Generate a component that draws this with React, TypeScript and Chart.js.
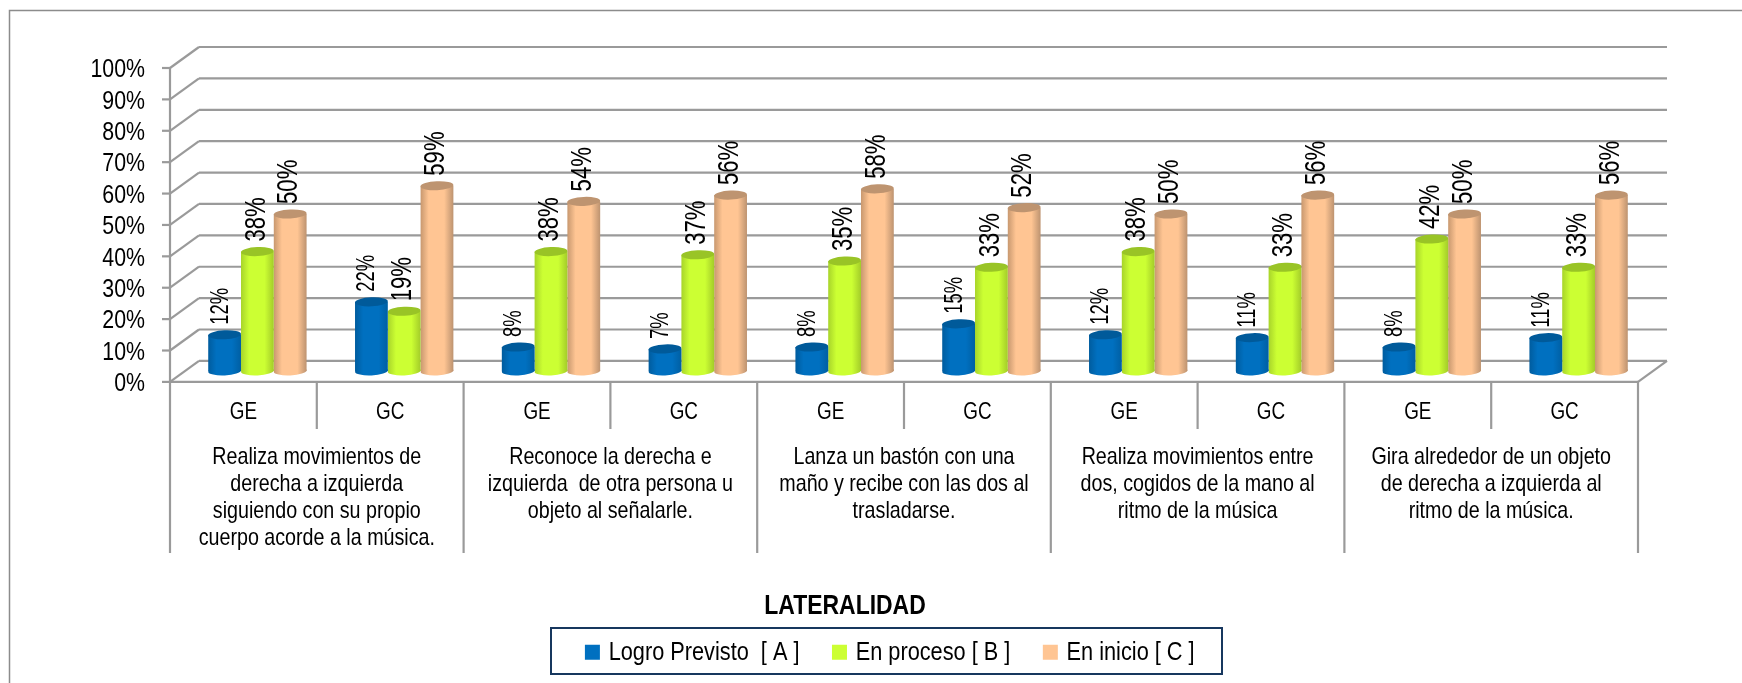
import React, { useEffect, useRef } from "react";
import { Chart, registerables } from "chart.js";

Chart.register(...registerables);

const FONT = '"Liberation Sans", Arial, sans-serif';
const NARROW = 0.82; // the reference's type is a narrow cut of this face

const groupCodes = ["GE", "GC", "GE", "GC", "GE", "GC", "GE", "GC", "GE", "GC"];
const indicatorLabels = [
  ["Realiza movimientos de", "derecha a izquierda", "siguiendo con su propio", "cuerpo acorde a la música."],
  ["Reconoce la derecha e", "izquierda  de otra persona u", "objeto al señalarle."],
  ["Lanza un bastón con una", "maño y recibe con las dos al", "trasladarse."],
  ["Realiza movimientos entre", "dos, cogidos de la mano al", "ritmo de la música"],
  ["Gira alrededor de un objeto", "de derecha a izquierda al", "ritmo de la música."],
];
const logroPrevisto = [11.5, 22, 7.6, 7, 7.6, 15, 11.5, 10.6, 7.6, 10.6];
const enProceso = [38, 19, 38, 37, 35, 33, 38, 33, 42, 33];
const enInicio = [50, 59, 54, 56, 58, 52, 50, 56, 50, 56];

const shades = [
  { edge: "#005C9E", body: "#0070C0", right: "#005FA3", cap: "#005A9A" },
  { edge: "#A8D42A", body: "#CCFF33", right: "#A3CC29", cap: "#99C426" },
  { edge: "#C8986F", body: "#FFC593", right: "#BD9370", cap: "#BE9470" },
];
const labelSizes = [25, 30, 30];
const labelShifts = [-4, -1, -1];

const DEPTH_X = 29;
const DEPTH_Y = 21;
const BAR_DX = 14;
const BAR_DY = -11;
const RY = 4.5;
const TILT = -0.045;
const GRID = "#9A9A9A";

const line = (c: CanvasRenderingContext2D, x1: number, y1: number, x2: number, y2: number) => {
  c.beginPath();
  c.moveTo(x1, y1);
  c.lineTo(x2, y2);
  c.stroke();
};

// Condense every text the chart draws along its own baseline direction.
const condense = (c: any) => {
  const fill = c.fillText.bind(c);
  const measure = c.measureText.bind(c);
  c.fillText = (t: string, x: number, y: number) => {
    c.save();
    c.translate(x, y);
    c.scale(NARROW, 1);
    fill(t, 0, 0);
    c.restore();
  };
  c.measureText = (t: string) => {
    const m = measure(t);
    return { width: m.width * NARROW, actualBoundingBoxAscent: m.actualBoundingBoxAscent, actualBoundingBoxDescent: m.actualBoundingBoxDescent };
  };
};

const scene = {
  id: "scene",
  afterLayout(chart: any) {
    const legend = chart.legend;
    const title = chart.titleBlock;
    const dxLegend = 892 - (legend.left + legend.right) / 2;
    legend.left += dxLegend;
    legend.right += dxLegend;
    const dyLegend = 602 - legend.top;
    legend.top += dyLegend;
    legend.bottom += dyLegend;
    const dxTitle = 845 - (title.left + title.right) / 2;
    title.left += dxTitle;
    title.right += dxTitle;
    const dyTitle = 589 - title.top;
    title.top += dyTitle;
    title.bottom += dyTitle;
  },
  beforeDatasetsDraw(chart: any) {
    const { ctx: c, scales, chartArea: a } = chart;
    const y = scales.y;
    c.save();
    c.strokeStyle = "#8C8C8C";
    c.lineWidth = 1.5;
    c.beginPath();
    c.moveTo(9.5, 683);
    c.lineTo(9.5, 10.5);
    c.lineTo(1742, 10.5);
    c.stroke();

    c.strokeStyle = GRID;
    c.lineWidth = 2.2;
    y.ticks.forEach((t: any) => {
      const py = y.getPixelForValue(t.value);
      line(c, a.left + DEPTH_X, py - DEPTH_Y, a.right + DEPTH_X, py - DEPTH_Y);
      line(c, a.left, py, a.left + DEPTH_X, py - DEPTH_Y);
      line(c, a.left - 8, py, a.left, py);
    });
    line(c, a.left, a.bottom, a.right, a.bottom);
    line(c, a.right, a.bottom, a.right + DEPTH_X, a.bottom - DEPTH_Y);
    line(c, a.left, a.top, a.left, 553);
    line(c, a.right, a.bottom, a.right, 553);
    const step = (a.right - a.left) / groupCodes.length;
    groupCodes.forEach((_, i) => {
      if (i === 0) return;
      const px = scales.x.getPixelForValue(i) - step / 2;
      line(c, px, a.bottom, px, i % 2 === 0 ? 553 : 429);
    });
    c.restore();
  },
  beforeDatasetDraw(chart: any, args: any) {
    const { ctx: c } = chart;
    const s = shades[args.index];
    c.save();
    c.translate(BAR_DX, BAR_DY);
    args.meta.data.forEach((el: any) => {
      const left = el.x - el.width / 2;
      const g = c.createLinearGradient(left, 0, left + el.width, 0);
      g.addColorStop(0, s.edge);
      g.addColorStop(0.25, s.body);
      g.addColorStop(0.72, s.body);
      g.addColorStop(1, s.right);
      el.options = { ...el.options, backgroundColor: g };
      c.fillStyle = g;
      c.beginPath();
      c.ellipse(el.x, el.base, el.width / 2, RY, TILT, 0, Math.PI * 2);
      c.fill();
    });
  },
  afterDatasetDraw(chart: any, args: any) {
    const { ctx: c } = chart;
    const s = shades[args.index];
    args.meta.data.forEach((el: any) => {
      c.fillStyle = s.cap;
      c.beginPath();
      c.ellipse(el.x, el.y, el.width / 2, RY, TILT, 0, Math.PI * 2);
      c.fill();
    });
    c.restore();
  },
  afterDatasetsDraw(chart: any) {
    const { ctx: c, data } = chart;
    c.save();
    c.fillStyle = "#000";
    c.textAlign = "left";
    c.textBaseline = "middle";
    data.datasets.forEach((ds: any, d: number) => {
      c.font = `${labelSizes[d]}px ${FONT}`;
      chart.getDatasetMeta(d).data.forEach((el: any, i: number) => {
        c.save();
        c.translate(el.x + BAR_DX + labelShifts[d], el.y + BAR_DY - 10);
        c.rotate(-Math.PI / 2);
        c.scale(0.9, 1); // these rotated labels are tighter still
        c.fillText(`${Math.round(ds.data[i])}%`, 0, 0);
        c.restore();
      });
    });
    c.restore();
  },
  afterDraw(chart: any) {
    const { ctx: c } = chart;
    c.save();
    c.strokeStyle = "#17375E";
    c.lineWidth = 2;
    c.strokeRect(551, 628, 671, 46);
    c.restore();
  },
};

export default function App() {
  const ref = useRef<HTMLCanvasElement>(null);
  useEffect(() => {
    const canvas = ref.current as HTMLCanvasElement;
    condense(canvas.getContext("2d"));
    const chart = new Chart(canvas, {
      type: "bar",
      data: {
        labels: groupCodes,
        datasets: [
          { label: "Logro Previsto  [ A ]", data: logroPrevisto, backgroundColor: shades[0].body },
          { label: "En proceso [ B ]", data: enProceso, backgroundColor: shades[1].body },
          { label: "En inicio [ C ]", data: enInicio, backgroundColor: shades[2].body },
        ],
      },
      options: {
        responsive: false,
        animation: false,
        layout: { padding: { left: 0, right: 104, top: 68, bottom: 0 } },
        datasets: { bar: { categoryPercentage: 0.67, barPercentage: 1 } },
        scales: {
          y: {
            min: 0,
            max: 100,
            afterFit: (s: any) => {
              s.width = 170;
            },
            grid: { display: false, drawTicks: false },
            border: { display: false },
            ticks: {
              stepSize: 10,
              autoSkip: false,
              padding: 25,
              labelOffset: 2,
              color: "#000",
              font: { family: FONT, size: 26 },
              callback: (v: any) => `${v}%`,
            },
          },
          x: {
            afterFit: (s: any) => {
              s.height = 48;
            },
            grid: { display: false, drawTicks: false },
            border: { display: false },
            ticks: {
              padding: 17,
              color: "#000",
              autoSkip: false,
              maxRotation: 0,
              font: { family: FONT, size: 23 },
            },
          },
          x2: {
            type: "category",
            position: "bottom",
            labels: indicatorLabels as any,
            afterFit: (s: any) => {
              s.height = 146;
            },
            grid: { display: false, drawTicks: false },
            border: { display: false },
            ticks: {
              padding: 14,
              color: "#000",
              autoSkip: false,
              maxRotation: 0,
              font: { family: FONT, size: 24, lineHeight: 1.13 },
            },
          },
        },
        plugins: {
          title: {
            display: true,
            text: "LATERALIDAD",
            position: "bottom",
            color: "#000",
            padding: 0,
            font: { family: FONT, size: 28, weight: "bold" },
          },
          legend: {
            display: true,
            position: "bottom",
            labels: {
              boxWidth: 6,
              boxHeight: 6,
              padding: 37,
              color: "#000",
              font: { family: FONT, size: 26.5 },
              generateLabels: (chart: any) =>
                Chart.defaults.plugins.legend.labels.generateLabels(chart).map((item: any) => ({
                  ...item,
                  strokeStyle: item.fillStyle,
                  lineWidth: 9,
                })),
            },
          },
          tooltip: { enabled: false },
        },
      },
      plugins: [scene],
    } as any);
    return () => chart.destroy();
  }, []);
  return (
    <div style={{ position: "absolute", left: 0, top: 0, width: 1742, height: 683, overflow: "hidden", background: "#fff" }}>
      <canvas ref={ref} width={1742} height={683} style={{ display: "block" }} />
    </div>
  );
}
